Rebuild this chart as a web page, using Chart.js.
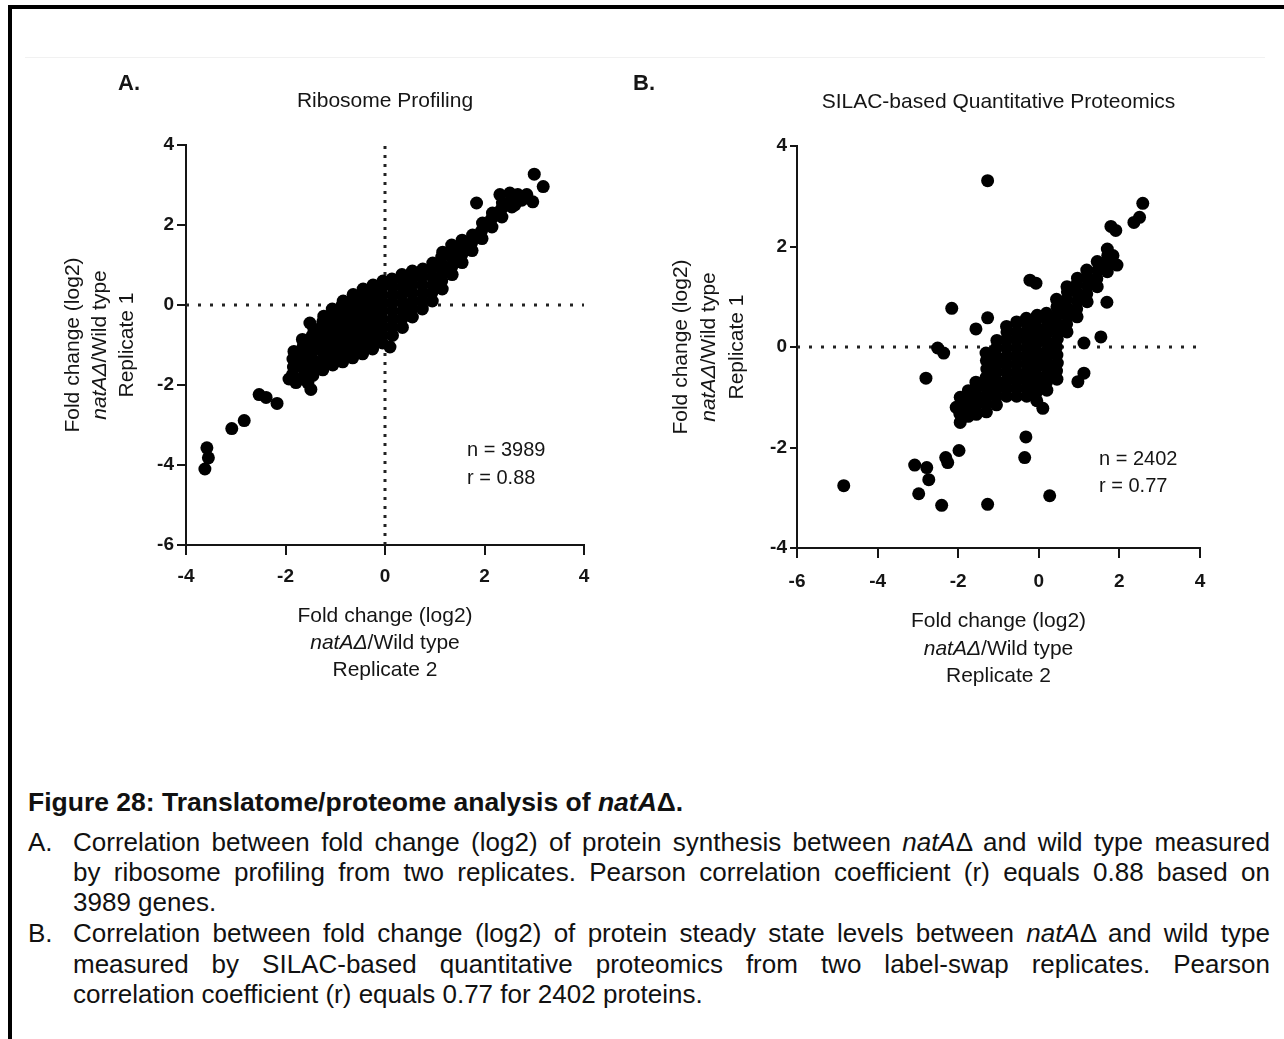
<!DOCTYPE html>
<html>
<head>
<meta charset="utf-8">
<title>Translatome/proteome analysis of natAΔ</title>
<script src="https://cdn.jsdelivr.net/npm/chart.js@4.4.1/dist/chart.umd.min.js"></script>
<style>
  html, body { margin: 0; padding: 0; background: #fff; }
  body { position: relative; width: 1284px; height: 1039px; overflow: hidden;
         font-family: "Liberation Sans", Arial, sans-serif; color: #000; }
  .rule-top  { position: absolute; left: 8px; top: 5px; width: 1276px; height: 4px; background: #000; }
  .rule-left { position: absolute; left: 8px; top: 5px; width: 4px; height: 1034px; background: #000; }
  .hairline  { position: absolute; left: 25px; top: 57px; width: 1240px; height: 1px; background: #f1f1f1; }
  canvas { position: absolute; top: 0; }
  #panelA { left: 0; }
  #panelB { left: 600px; }
  .cap { position: absolute; font-size: 26px; line-height: 30px; color: #111; }
  .cap.title { left: 28px; font-weight: bold; font-size: 26.5px; white-space: nowrap; }
  .cap.mark { left: 28px; white-space: nowrap; }
  .cap.line { left: 73px; width: 1197px; text-align: justify; text-align-last: justify; }
  .cap.line.last { text-align-last: left; }
</style>
</head>
<body>
<div class="rule-top"></div>
<div class="rule-left"></div>
<div class="hairline"></div>

<canvas id="panelA" width="600" height="720"></canvas>
<canvas id="panelB" width="684" height="720"></canvas>

<div class="cap title" style="top:787px">Figure 28: Translatome/proteome analysis of <i>natA</i>Δ.</div>
<div class="cap mark" style="top:827px">A.</div>
<div class="cap line" style="top:827px">Correlation between fold change (log2) of protein synthesis between <i>natA</i>Δ and wild type measured</div>
<div class="cap line" style="top:857px">by ribosome profiling from two replicates. Pearson correlation coefficient (r) equals 0.88 based on</div>
<div class="cap line last" style="top:887px">3989 genes.</div>
<div class="cap mark" style="top:918px">B.</div>
<div class="cap line" style="top:918px">Correlation between fold change (log2) of protein steady state levels between <i>natA</i>Δ and wild type</div>
<div class="cap line" style="top:949px">measured by SILAC-based quantitative proteomics from two label-swap replicates. Pearson</div>
<div class="cap line last" style="top:979px">correlation coefficient (r) equals 0.77 for 2402 proteins.</div>

<script>
// ---------------------------------------------------------------
// Data: log2 fold change natAΔ / wild type, pairs of [replicate 2, replicate 1]
// ---------------------------------------------------------------

// A. Ribosome profiling (dense band plus the scattered tails)
const ribosomeFold = [
  [-1.86,-1.74],[-1.84,-1.55],[-1.85,-1.35],[-1.83,-1.16],
  [-1.66,-1.82],[-1.64,-1.6],[-1.65,-1.4],[-1.66,-1.2],[-1.64,-1.01],[-1.66,-0.86],
  [-1.45,-1.76],[-1.44,-1.55],[-1.46,-1.35],[-1.45,-1.15],[-1.44,-0.95],[-1.46,-0.76],[-1.43,-0.6],
  [-1.25,-1.62],[-1.26,-1.4],[-1.24,-1.2],[-1.25,-1.0],[-1.26,-0.8],[-1.24,-0.6],[-1.25,-0.42],[-1.23,-0.28],
  [-1.05,-1.5],[-1.06,-1.3],[-1.04,-1.1],[-1.05,-0.9],[-1.06,-0.7],[-1.04,-0.5],[-1.05,-0.3],[-1.06,-0.1],
  [-0.85,-1.42],[-0.86,-1.2],[-0.84,-1.0],[-0.85,-0.8],[-0.86,-0.6],[-0.84,-0.4],[-0.85,-0.2],[-0.86,0.0],[-0.84,0.1],
  [-0.65,-1.32],[-0.66,-1.1],[-0.64,-0.9],[-0.65,-0.7],[-0.66,-0.5],[-0.64,-0.3],[-0.65,-0.1],[-0.66,0.1],[-0.64,0.26],
  [-0.45,-1.22],[-0.46,-1.0],[-0.44,-0.8],[-0.45,-0.6],[-0.46,-0.4],[-0.44,-0.2],[-0.45,0.0],[-0.46,0.2],[-0.44,0.4],
  [-0.25,-1.1],[-0.26,-0.9],[-0.24,-0.7],[-0.25,-0.5],[-0.26,-0.3],[-0.24,-0.1],[-0.25,0.1],[-0.26,0.3],[-0.24,0.5],
  [-0.05,-0.95],[-0.06,-0.75],[-0.04,-0.55],[-0.05,-0.35],[-0.06,-0.15],[-0.04,0.05],[-0.05,0.25],[-0.06,0.45],[-0.04,0.6],
  [0.15,-0.76],[0.14,-0.55],[0.16,-0.35],[0.15,-0.15],[0.14,0.05],[0.16,0.25],[0.15,0.45],[0.14,0.65],
  [0.35,-0.56],[0.34,-0.35],[0.36,-0.15],[0.35,0.05],[0.34,0.25],[0.36,0.45],[0.35,0.62],[0.34,0.76],
  [0.55,-0.3],[0.54,-0.1],[0.56,0.1],[0.55,0.3],[0.54,0.5],[0.56,0.7],[0.55,0.85],
  [0.75,-0.1],[0.74,0.1],[0.76,0.3],[0.75,0.5],[0.74,0.7],[0.76,0.9],
  [0.95,0.1],[0.94,0.3],[0.96,0.5],[0.95,0.7],[0.94,0.9],[0.96,1.05],
  [1.15,0.4],[1.14,0.6],[1.16,0.8],[1.15,1.0],[1.14,1.2],[1.16,1.32],
  [1.35,0.76],[1.34,0.95],[1.36,1.15],[1.35,1.35],[1.34,1.5],
  [1.55,1.06],[1.54,1.25],[1.56,1.45],[1.55,1.62],
  [1.75,1.36],[1.74,1.55],[1.76,1.75],
  [1.95,1.66],[1.94,1.85],[1.96,2.05],
  [2.15,1.95],[2.14,2.15],[2.16,2.3],
  [2.35,2.2],[2.34,2.4],[2.36,2.55],
  [2.55,2.45],[2.54,2.62],
  [2.75,2.62],
  [1.84,2.55],[2.31,2.76],[2.51,2.8],[2.67,2.76],[2.85,2.76],[2.97,2.58],[2.61,2.5],[3.0,3.27],[3.18,2.96],
  [-1.93,-1.85],[-1.79,-1.94],[-1.55,-1.95],[-1.49,-2.11],[-1.51,-0.45],[0.1,-1.05],
  [-2.53,-2.24],[-2.39,-2.31],[-2.17,-2.46],[-2.83,-2.89],[-3.08,-3.09],
  [-3.58,-3.57],[-3.55,-3.82],[-3.62,-4.1]
];

// B. SILAC-based quantitative proteomics (central cloud plus outliers)
const silacFold = [
  [-1.95,-1.5],[-1.96,-1.33],[-1.94,-1.16],[-1.95,-1.0],
  [-1.75,-1.38],[-1.76,-1.21],[-1.74,-1.04],[-1.75,-0.87],
  [-1.55,-1.34],[-1.56,-1.17],[-1.54,-1.0],[-1.55,-0.83],[-1.56,-0.7],
  [-1.3,-1.29],[-1.31,-1.12],[-1.29,-0.95],[-1.3,-0.78],[-1.31,-0.61],[-1.29,-0.44],[-1.3,-0.27],[-1.31,-0.12],
  [-1.05,-1.15],[-1.06,-0.99],[-1.04,-0.83],[-1.05,-0.67],[-1.06,-0.51],[-1.04,-0.35],[-1.05,-0.19],[-1.06,-0.03],[-1.04,0.13],
  [-0.8,-0.98],[-0.81,-0.82],[-0.79,-0.66],[-0.8,-0.5],[-0.81,-0.34],[-0.79,-0.18],[-0.8,-0.02],[-0.81,0.14],[-0.79,0.3],[-0.8,0.41],
  [-0.55,-0.98],[-0.56,-0.82],[-0.54,-0.66],[-0.55,-0.5],[-0.56,-0.34],[-0.54,-0.18],[-0.55,-0.02],[-0.56,0.14],[-0.54,0.3],[-0.55,0.5],
  [-0.3,-0.98],[-0.31,-0.82],[-0.29,-0.66],[-0.3,-0.5],[-0.31,-0.34],[-0.29,-0.18],[-0.3,-0.02],[-0.31,0.14],[-0.29,0.3],[-0.3,0.46],[-0.31,0.57],
  [-0.05,-1.07],[-0.06,-0.9],[-0.04,-0.74],[-0.05,-0.58],[-0.06,-0.42],[-0.04,-0.26],[-0.05,-0.1],[-0.06,0.06],[-0.04,0.22],[-0.05,0.38],[-0.06,0.54],[-0.04,0.63],
  [0.2,-0.86],[0.19,-0.7],[0.21,-0.54],[0.2,-0.38],[0.19,-0.22],[0.21,-0.06],[0.2,0.1],[0.19,0.26],[0.21,0.42],[0.2,0.58],[0.19,0.67],
  [0.45,-0.64],[0.44,-0.48],[0.46,-0.32],[0.45,-0.16],[0.44,0.0],[0.46,0.16],[0.45,0.32],[0.44,0.48],[0.46,0.64],[0.45,0.8],[0.44,0.95],
  [0.7,0.3],[0.69,0.46],[0.71,0.62],[0.7,0.78],[0.69,0.94],[0.71,1.1],[0.7,1.2],
  [0.95,0.6],[0.94,0.76],[0.96,0.92],[0.95,1.08],[0.94,1.24],[0.96,1.37],
  [1.2,0.9],[1.19,1.06],[1.21,1.22],[1.2,1.38],[1.19,1.53],
  [1.45,1.2],[1.44,1.36],[1.46,1.52],[1.45,1.7],
  [1.7,1.5],[1.69,1.66],[1.71,1.82],[1.7,1.95],
  [1.79,2.4],[1.91,2.32],[1.84,1.82],[1.94,1.63],[2.36,2.48],[2.5,2.58],[2.58,2.86],
  [-1.27,3.31],[-0.22,1.33],[-0.07,1.27],[-2.16,0.77],[1.69,0.89],[-1.27,0.58],[-1.56,0.36],
  [-2.51,-0.02],[-2.36,-0.12],[-2.8,-0.62],[0.97,-0.69],[1.12,-0.52],[1.54,0.2],[1.12,0.08],
  [0.1,-1.22],[-0.32,-1.79],[-0.35,-2.2],[-2.05,-1.2],
  [-4.84,-2.76],[-3.08,-2.35],[-2.78,-2.4],[-2.73,-2.64],[-2.98,-2.92],[-2.41,-3.15],
  [-1.27,-3.13],[0.27,-2.96],[-2.31,-2.2],[-2.26,-2.3],[-1.98,-2.06]
];

// Axis ticks
const ribosomeXTicks = [-4, -2, 0, 2, 4];
const ribosomeYTicks = [-6, -4, -2, 0, 2, 4];
const silacXTicks = [-6, -4, -2, 0, 2, 4];
const silacYTicks = [-4, -2, 0, 2, 4];

// Panel texts
const ribosomeTitle = 'Ribosome Profiling';
const silacTitle = 'SILAC-based Quantitative Proteomics';
const ribosomeStats = ['n = 3989', 'r = 0.88'];
const silacStats = ['n = 2402', 'r = 0.77'];

// ---------------------------------------------------------------
const FONT = '"Liberation Sans", Arial, sans-serif';
const INK = '#151515';

function axisTitle(rep) {
  return [
    [{ t: 'Fold change (log2)' }],
    [{ t: 'natAΔ', italic: true }, { t: '/Wild type' }],
    [{ t: 'Replicate ' + rep }]
  ];
}

function drawRich(ctx, segs, cx, y, size) {
  const widths = segs.map(s => {
    ctx.font = (s.italic ? 'italic ' : '') + size + 'px ' + FONT;
    return ctx.measureText(s.t).width;
  });
  const total = widths.reduce((a, b) => a + b, 0);
  let x = cx - total / 2;
  segs.forEach((s, i) => {
    ctx.font = (s.italic ? 'italic ' : '') + size + 'px ' + FONT;
    ctx.fillText(s.t, x, y);
    x += widths[i];
  });
}

// Panel letter, title, axis titles and statistics, placed around the chart area
function panelTextPlugin(spec) {
  return {
    id: 'panelText',
    afterDraw(chart) {
      const ctx = chart.ctx;
      const a = chart.chartArea;
      ctx.save();
      ctx.fillStyle = INK;
      ctx.textBaseline = 'alphabetic';
      ctx.textAlign = 'left';

      ctx.font = 'bold 22px ' + FONT;
      ctx.fillText(spec.letter, a.left + spec.letterDx, a.top + spec.letterDy);

      ctx.font = '21px ' + FONT;
      ctx.textAlign = 'center';
      ctx.fillText(spec.title, (a.left + a.right) / 2, a.top + spec.titleDy);
      ctx.textAlign = 'left';

      const cx = (a.left + a.right) / 2;
      spec.xTitle.forEach((line, i) => drawRich(ctx, line, cx, a.bottom + spec.xTitleDy[i], 21));

      const cy = (a.top + a.bottom) / 2;
      spec.yTitle.forEach((line, i) => {
        ctx.save();
        ctx.translate(a.left + spec.yTitleDx[i], cy);
        ctx.rotate(-Math.PI / 2);
        drawRich(ctx, line, 0, 0, 21);
        ctx.restore();
      });

      ctx.font = '20px ' + FONT;
      spec.stats.forEach((s, i) => ctx.fillText(s, a.left + spec.statsDx, a.bottom + spec.statsDy[i]));
      ctx.restore();
    }
  };
}

function axis(ticks, isX, size, tickLen, pad) {
  return {
    type: 'linear',
    min: ticks[0],
    max: ticks[ticks.length - 1],
    afterBuildTicks: s => { s.ticks = ticks.map(v => ({ value: v })); },
    afterFit: s => { if (isX) s.height = size; else s.width = size; },
    grid: {
      display: true, drawOnChartArea: false, drawTicks: true,
      tickLength: tickLen, tickWidth: 2, tickColor: INK, color: INK, lineWidth: 2
    },
    border: { display: true, color: INK, width: 2 },
    ticks: {
      autoSkip: false, maxRotation: 0, padding: pad, color: INK,
      font: { family: FONT, size: 19, weight: 'bold' },
      callback: v => String(v)
    }
  };
}

function dotted(points, dash) {
  return {
    data: points, showLine: true, pointRadius: 0, borderColor: '#222',
    borderWidth: 3, borderDash: dash, borderCapStyle: 'butt', order: 2
  };
}

function scatterSet(pairs) {
  return {
    data: pairs.map(([x, y]) => ({ x, y })),
    pointRadius: 6.5, pointHoverRadius: 6.5, pointBorderWidth: 0,
    backgroundColor: '#000', borderColor: '#000', order: 1
  };
}

function baseOptions(padding, xAxis, yAxis) {
  return {
    responsive: false, animation: false, devicePixelRatio: 1, events: [],
    layout: { padding },
    plugins: { legend: { display: false }, tooltip: { enabled: false } },
    scales: { x: xAxis, y: yAxis }
  };
}

// Panel A: chart area 186..584 x 145..545
new Chart(document.getElementById('panelA'), {
  type: 'scatter',
  data: {
    datasets: [
      scatterSet(ribosomeFold),
      dotted([{ x: ribosomeXTicks[0], y: 0 }, { x: ribosomeXTicks[ribosomeXTicks.length - 1], y: 0 }], [3, 9]),
      dotted([{ x: 0, y: ribosomeYTicks[0] }, { x: 0, y: ribosomeYTicks[ribosomeYTicks.length - 1] }], [3, 6])
    ]
  },
  options: baseOptions(
    { left: 0, top: 145, right: 16, bottom: 135 },
    axis(ribosomeXTicks, true, 40, 10, 10),
    axis(ribosomeYTicks, false, 186, 9, 3)
  ),
  plugins: [panelTextPlugin({
    letter: 'A.', letterDx: -68, letterDy: -55,
    title: ribosomeTitle, titleDy: -38,
    xTitle: axisTitle(2), xTitleDy: [77, 104, 131],
    yTitle: axisTitle(1), yTitleDx: [-107, -80, -53],
    stats: ribosomeStats, statsDx: 281, statsDy: [-89, -61]
  })]
});

// Panel B: chart area 797..1200 x 146..548 (canvas starts at 600)
new Chart(document.getElementById('panelB'), {
  type: 'scatter',
  data: {
    datasets: [
      scatterSet(silacFold),
      dotted([{ x: silacXTicks[0], y: 0 }, { x: silacXTicks[silacXTicks.length - 1], y: 0 }], [3, 9])
    ]
  },
  options: baseOptions(
    { left: 0, top: 146, right: 84, bottom: 132 },
    axis(silacXTicks, true, 40, 10, 12),
    axis(silacYTicks, false, 197, 7, 3)
  ),
  plugins: [panelTextPlugin({
    letter: 'B.', letterDx: -164, letterDy: -56,
    title: silacTitle, titleDy: -38,
    xTitle: axisTitle(2), xTitleDy: [79, 107, 134],
    yTitle: axisTitle(1), yTitleDx: [-110, -82, -54],
    stats: silacStats, statsDx: 302, statsDy: [-83, -56]
  })]
});
</script>
</body>
</html>
